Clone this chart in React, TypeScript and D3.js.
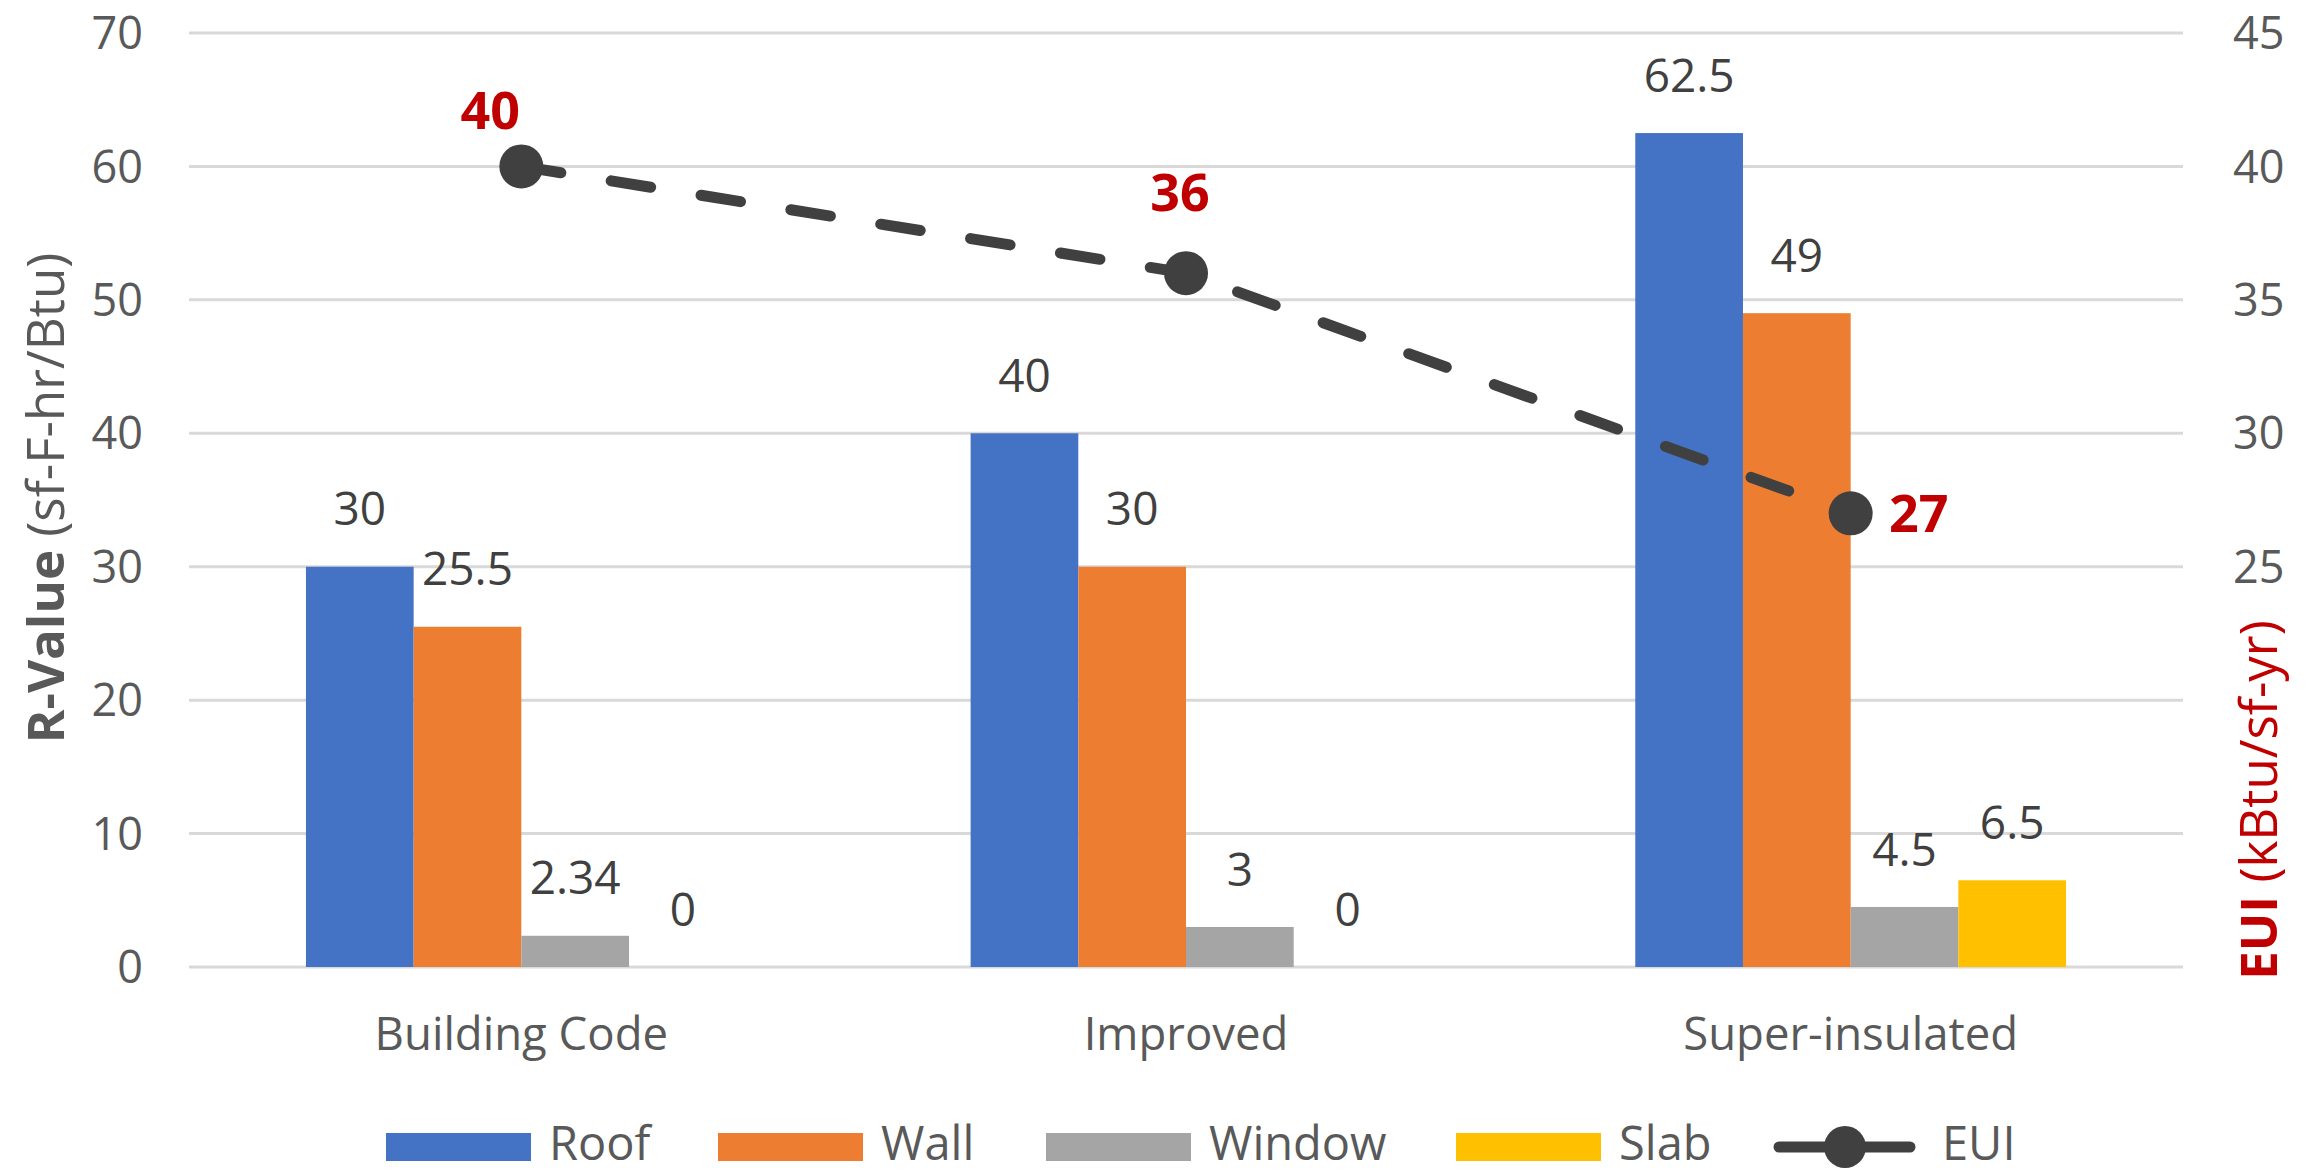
import React from "react";
import * as d3 from "d3";

const categories = ["Building Code", "Improved", "Super-insulated"];
const seriesNames = ["Roof", "Wall", "Window", "Slab"];
const roofValues = [30, 40, 62.5];
const wallValues = [25.5, 30, 49];
const windowValues = [2.34, 3, 4.5];
const slabValues = [0, 0, 6.5];
const euiValues = [40, 36, 27];
const leftTicks = [0, 10, 20, 30, 40, 50, 60, 70];
const rightTicks = [25, 30, 35, 40, 45];

const seriesColors = ["#4472C4", "#ED7D31", "#A5A5A5", "#FFC000"];
const seriesValues = [roofValues, wallValues, windowValues, slabValues];

// label offsets for EUI labels (layout only)
const euiLabelOffsets = [
  { dx: -31, dy: -56 },
  { dx: -6, dy: -81 },
  { dx: 68, dy: 0 },
];

const W = 2313;
const H = 1173;
const FS_TICK = 45;
const FS_DATA = 46;
const FS_CAT = 45.5;
const FS_LEG = 47;
const FS_EUI = 52;
const FONT = "'Open Sans', 'Noto Sans', sans-serif";
const TEXT = "#595959";
const LABEL = "#404040";
const RED = "#C00000";
const LINE = "#404040";

export default function App() {
  const plotLeft = 189;
  const plotRight = 2183;
  const yTop = 33;
  const yBottom = 967;

  const x0 = d3.scaleBand<string>().domain(categories).range([plotLeft, plotRight]).padding(0);
  const x1 = d3
    .scaleBand<string>()
    .domain(seriesNames)
    .range([0, x0.bandwidth()])
    .paddingInner(0)
    .paddingOuter(1.086);
  const yL = d3.scaleLinear().domain([0, 70]).range([yBottom, yTop]);
  const yR = d3.scaleLinear().domain([10, 45]).range([yBottom, yTop]);

  const euiPts: [number, number][] = categories.map((c, i) => [
    (x0(c) as number) + x0.bandwidth() / 2,
    yR(euiValues[i]),
  ]);
  const lineGen = d3.line();

  const legendItems = [
    { name: "Roof", x: 386, color: seriesColors[0] },
    { name: "Wall", x: 718, color: seriesColors[1] },
    { name: "Window", x: 1046, color: seriesColors[2] },
    { name: "Slab", x: 1456, color: seriesColors[3] },
  ];
  const legendY = 1147;
  const legendBase = 1160;

  React.useEffect(() => {
    document.body.style.margin = "0";
  }, []);

  return (
    <svg
      width={W}
      height={H}
      viewBox={`0 0 ${W} ${H}`}
      style={{ position: "absolute", left: 0, top: 0, display: "block", background: "#fff" }}
      fontFamily={FONT}
    >
      <rect x={0} y={0} width={W} height={H} fill="#fff" />
      {/* gridlines */}
      {leftTicks.map((t) => (
        <line
          key={"g" + t}
          x1={plotLeft}
          x2={plotRight}
          y1={yL(t)}
          y2={yL(t)}
          stroke="#D9D9D9"
          strokeWidth={3}
        />
      ))}
      {/* left tick labels */}
      {leftTicks.map((t) => (
        <text
          key={"lt" + t}
          x={143}
          y={yL(t) + FS_TICK * 0.36}
          textAnchor="end"
          fontSize={FS_TICK}
          fill={TEXT}
        >
          {t}
        </text>
      ))}
      {/* right tick labels */}
      {rightTicks.map((t) => (
        <text
          key={"rt" + t}
          x={2233}
          y={yR(t) + FS_TICK * 0.36}
          textAnchor="start"
          fontSize={FS_TICK}
          fill={TEXT}
        >
          {t}
        </text>
      ))}
      {/* bars */}
      {categories.map((c, ci) => (
        <g key={"cat" + c} transform={`translate(${x0(c)},0)`}>
          {seriesNames.map((s, si) => {
            const v = seriesValues[si][ci];
            const y = yL(v);
            return (
              <rect
                key={s}
                x={x1(s) as number}
                y={y}
                width={x1.bandwidth()}
                height={yBottom - y}
                fill={seriesColors[si]}
              />
            );
          })}
        </g>
      ))}
      {/* bar data labels */}
      {categories.map((c, ci) =>
        seriesNames.map((s, si) => {
          const v = seriesValues[si][ci];
          const cx = (x0(c) as number) + (x1(s) as number) + x1.bandwidth() / 2;
          return (
            <text
              key={"dl" + c + s}
              x={cx}
              y={yL(v) - 58 + FS_DATA * 0.36}
              textAnchor="middle"
              fontSize={FS_DATA}
              fill={LABEL}
            >
              {String(v)}
            </text>
          );
        })
      )}
      {/* EUI line */}
      <path
        d={lineGen(euiPts) || ""}
        fill="none"
        stroke={LINE}
        strokeWidth={11}
        strokeLinecap="round"
        strokeDasharray="40 51"
      />
      {euiPts.map((p, i) => (
        <circle key={"m" + i} cx={p[0]} cy={p[1]} r={22} fill={LINE} />
      ))}
      {euiPts.map((p, i) => (
        <text
          key={"el" + i}
          x={p[0] + euiLabelOffsets[i].dx}
          y={p[1] + euiLabelOffsets[i].dy + FS_EUI * 0.36}
          textAnchor="middle"
          fontSize={FS_EUI}
          fontWeight="bold"
          fill={RED}
        >
          {euiValues[i]}
        </text>
      ))}
      {/* category labels */}
      {categories.map((c) => (
        <text
          key={"cl" + c}
          x={(x0(c) as number) + x0.bandwidth() / 2}
          y={1050}
          textAnchor="middle"
          fontSize={FS_CAT}
          fill={TEXT}
        >
          {c}
        </text>
      ))}
      {/* axis titles */}
      <text
        transform={`translate(44,498) rotate(-90)`}
        textAnchor="middle"
        dominantBaseline="central"
        fontSize={51}
        fill={TEXT}
      >
        <tspan fontWeight="bold">R-Value</tspan>
        <tspan> (sf-F-hr/Btu)</tspan>
      </text>
      <text
        transform={`translate(2257,800) rotate(-90)`}
        textAnchor="middle"
        dominantBaseline="central"
        fontSize={51}
        fill={RED}
      >
        <tspan fontWeight="bold">EUI</tspan>
        <tspan> (kBtu/sf-yr)</tspan>
      </text>
      {/* legend */}
      {legendItems.map((it) => (
        <g key={"lg" + it.name}>
          <rect x={it.x} y={legendY - 14} width={145} height={28} fill={it.color} />
          <text x={it.x + 163} y={legendBase} fontSize={FS_LEG} fill={TEXT}>
            {it.name}
          </text>
        </g>
      ))}
      <g>
        <line
          x1={1779}
          x2={1910}
          y1={legendY}
          y2={legendY}
          stroke={LINE}
          strokeWidth={11}
          strokeLinecap="round"
        />
        <circle cx={1845} cy={legendY} r={21} fill={LINE} />
        <text x={1942} y={legendBase} fontSize={FS_LEG} fill={TEXT}>
          EUI
        </text>
      </g>
    </svg>
  );
}
